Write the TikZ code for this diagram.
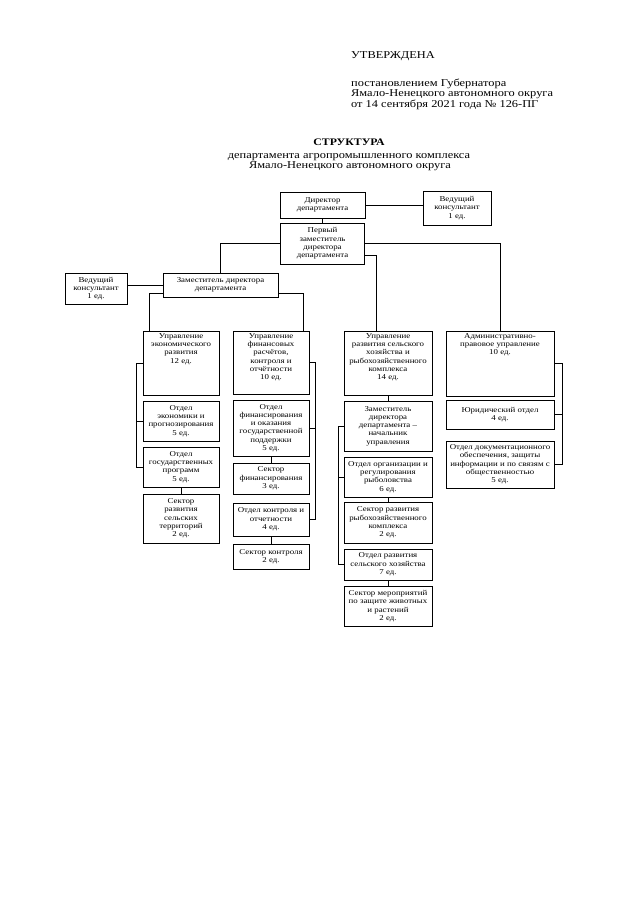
\documentclass[tikz,border=0pt]{standalone}
\usepackage{fontspec}
\setmainfont{Liberation Serif}[FakeStretch=1.18]
\usetikzlibrary{positioning}

\begin{document}
\begin{tikzpicture}[x=1pt, y=-1pt, node distance=6pt]

		\tikzstyle{box}=[draw, line width=0.8pt, inner sep=1pt, outer sep=0pt,
		align=center, font=\fontsize{7.5}{8.3}\selectfont]
		\tikzstyle{txt}=[inner sep=0pt, align=center, font=\fontsize{7.5}{8.3}\selectfont]
		\tikzstyle{head}=[inner sep=0pt, anchor=base west, font=\fontsize{10.5}{11}\selectfont]
		\tikzstyle{ttl}=[inner sep=0pt, anchor=base, font=\fontsize{10.5}{11}\selectfont]
		\tikzstyle{link}=[line width=0.7pt]

		\fill[white] (0,0) rectangle (640,905);
		\useasboundingbox (0,0) rectangle (640,905);

		% Header
		\node[head] (utv) at (351,58) {УТВЕРЖДЕНА};
		\node[head] (post1) at (351,86) {постановлением Губернатора};
		\node[head] (post2) at (351,96.5) {Ямало-Ненецкого автономного округа};
		\node[head] (post3) at (351,107) {от 14 сентября 2021 года № 126-ПГ};

		\node[ttl, font=\bfseries\fontsize{10}{11}\selectfont] (title) at (349,145) {СТРУКТУРА};
		\node[ttl] (sub1) at (349,158) {департамента агропромышленного комплекса};
		\node[ttl] (sub2) at (350,168) {Ямало-Ненецкого автономного округа};

		% Top level
		\node[box, anchor=north west, minimum width=85pt, minimum height=26pt] (dir) at (280,192)
		{Директор\\департамента};
		\node[box, anchor=north west, minimum width=68pt, minimum height=34pt] (vk1) at (423,191)
		{Ведущий\\консультант\\1 ед.};
		\node[box, below=5pt of dir, minimum width=84pt, minimum height=41pt] (pz)
		{Первый\\заместитель\\директора\\департамента};
		\node[box, anchor=north west, minimum width=115pt, minimum height=24pt] (zd) at (163,273)
		{Заместитель директора\\департамента};
		\node[box, anchor=north west, minimum width=62pt, minimum height=31pt] (vk2) at (65,273)
		{Ведущий\\консультант\\1 ед.};

		% Economic column
		\node[box, anchor=north west, minimum width=76pt, minimum height=64pt] (ue) at (143,331) {};
		\node[txt, below=2pt of ue.north] (ue-t) {Управление\\экономического\\развития\\12 ед.};
		\node[box, below=6pt of ue, minimum width=76pt, minimum height=40pt] (oe)
		{Отдел\\экономики и\\прогнозирования\\5 ед.};
		\node[box, below=6pt of oe, minimum width=76pt, minimum height=40pt] (og)
		{Отдел\\государственных\\программ\\5 ед.};
		\node[box, below=7pt of og, minimum width=76pt, minimum height=49pt] (sr)
		{Сектор\\развития\\сельских\\территорий\\2 ед.};

		% Finance column
		\node[box, anchor=north west, minimum width=76pt, minimum height=63pt] (uf) at (233,331) {};
		\node[txt, below=2pt of uf.north] (uf-t) {Управление\\финансовых\\расчётов,\\контроля и\\отчётности\\10 ед.};
		\node[box, below=6pt of uf, minimum width=76pt, minimum height=56pt] (of)
		{Отдел\\финансирования\\и оказания\\государственной\\поддержки\\5 ед.};
		\node[box, below=7pt of of, minimum width=76pt, minimum height=31pt] (sf)
		{Сектор\\финансирования\\3 ед.};
		\node[box, below=9pt of sf, minimum width=76pt, minimum height=33pt] (ok)
		{Отдел контроля и\\отчетности\\4 ед.};
		\node[box, below=8pt of ok, minimum width=76pt, minimum height=25pt] (sk)
		{Сектор контроля\\2 ед.};

		% Agriculture column
		\node[box, anchor=north west, minimum width=88pt, minimum height=64pt] (us) at (344,331) {};
		\node[txt, below=2pt of us.north] (us-t) {Управление\\развития сельского\\хозяйства и\\рыбохозяйственного\\комплекса\\14 ед.};
		\node[box, below=6pt of us, minimum width=88pt, minimum height=50pt] (zn)
		{Заместитель\\директора\\департамента –\\начальник\\управления};
		\node[box, below=6pt of zn, minimum width=88pt, minimum height=40pt] (oo)
		{Отдел организации и\\регулирования\\рыболовства\\6 ед.};
		\node[box, below=5pt of oo, minimum width=88pt, minimum height=41pt] (sry)
		{Сектор развития\\рыбохозяйственного\\комплекса\\2 ед.};
		\node[box, below=6pt of sry, minimum width=88pt, minimum height=31pt] (orsh)
		{Отдел развития\\сельского хозяйства\\7 ед.};
		\node[box, below=6pt of orsh, minimum width=88pt, minimum height=40pt] (sm)
		{Сектор мероприятий\\по защите животных\\и растений\\2 ед.};

		% Legal column
		\node[box, anchor=north west, minimum width=108pt, minimum height=65pt] (ua) at (446,331) {};
		\node[txt, below=2pt of ua.north] (ua-t) {Административно-\\правовое управление\\10 ед.};
		\node[box, below=4pt of ua, minimum width=108pt, minimum height=29pt] (yu)
		{Юридический отдел\\4 ед.};
		\node[box, below=12pt of yu, minimum width=108pt, minimum height=47pt] (od)
		{Отдел документационного\\обеспечения, защиты\\информации и по связям с\\общественностью\\5 ед.};

		% Links from the top
		\draw[link] (dir.east) -- (dir.east -| vk1.west);
		\draw[link] (dir.south) -- (dir.south |- pz.north);
		\draw[link] (pz.west) -| (zd.north);
		\draw[link] (pz.east) -| (ua.north);
		\draw[link] ([yshift=-12pt]pz.east) -| ([xshift=-12pt]us.north);
		\draw[link] (zd.west) -- (zd.west -| vk2.east);
		\draw[link] ([yshift=4pt]zd.south west) -| ([xshift=6pt]ue.north west);
		\draw[link] ([yshift=4pt]zd.south east) -| ([xshift=-6pt]uf.north east);

		% Links inside the columns
		\draw[link] (ue.west) -- ++(-7pt,0) |- (og.west);
		\draw[link] (oe.west) -- ++(-7pt,0);
		\draw[link] (og) -- (sr);

		\draw[link] (uf.east) -- ++(6pt,0) |- (ok.east);
		\draw[link] (of.east) -- ++(6pt,0);
		\draw[link] (of) -- (sf);
		\draw[link] (ok) -- (sk);

		\draw[link] (us) -- (zn);
		\draw[link] (zn.west) -- ++(-6pt,0) |- (orsh.west);
		\draw[link] (oo.west) -- ++(-6pt,0);
		\draw[link] (oo) -- (sry);
		\draw[link] (orsh) -- (sm);

		\draw[link] (ua.east) -- ++(8pt,0) |- (od.east);
		\draw[link] (yu.east) -- ++(8pt,0);

\end{tikzpicture}
\end{document}
